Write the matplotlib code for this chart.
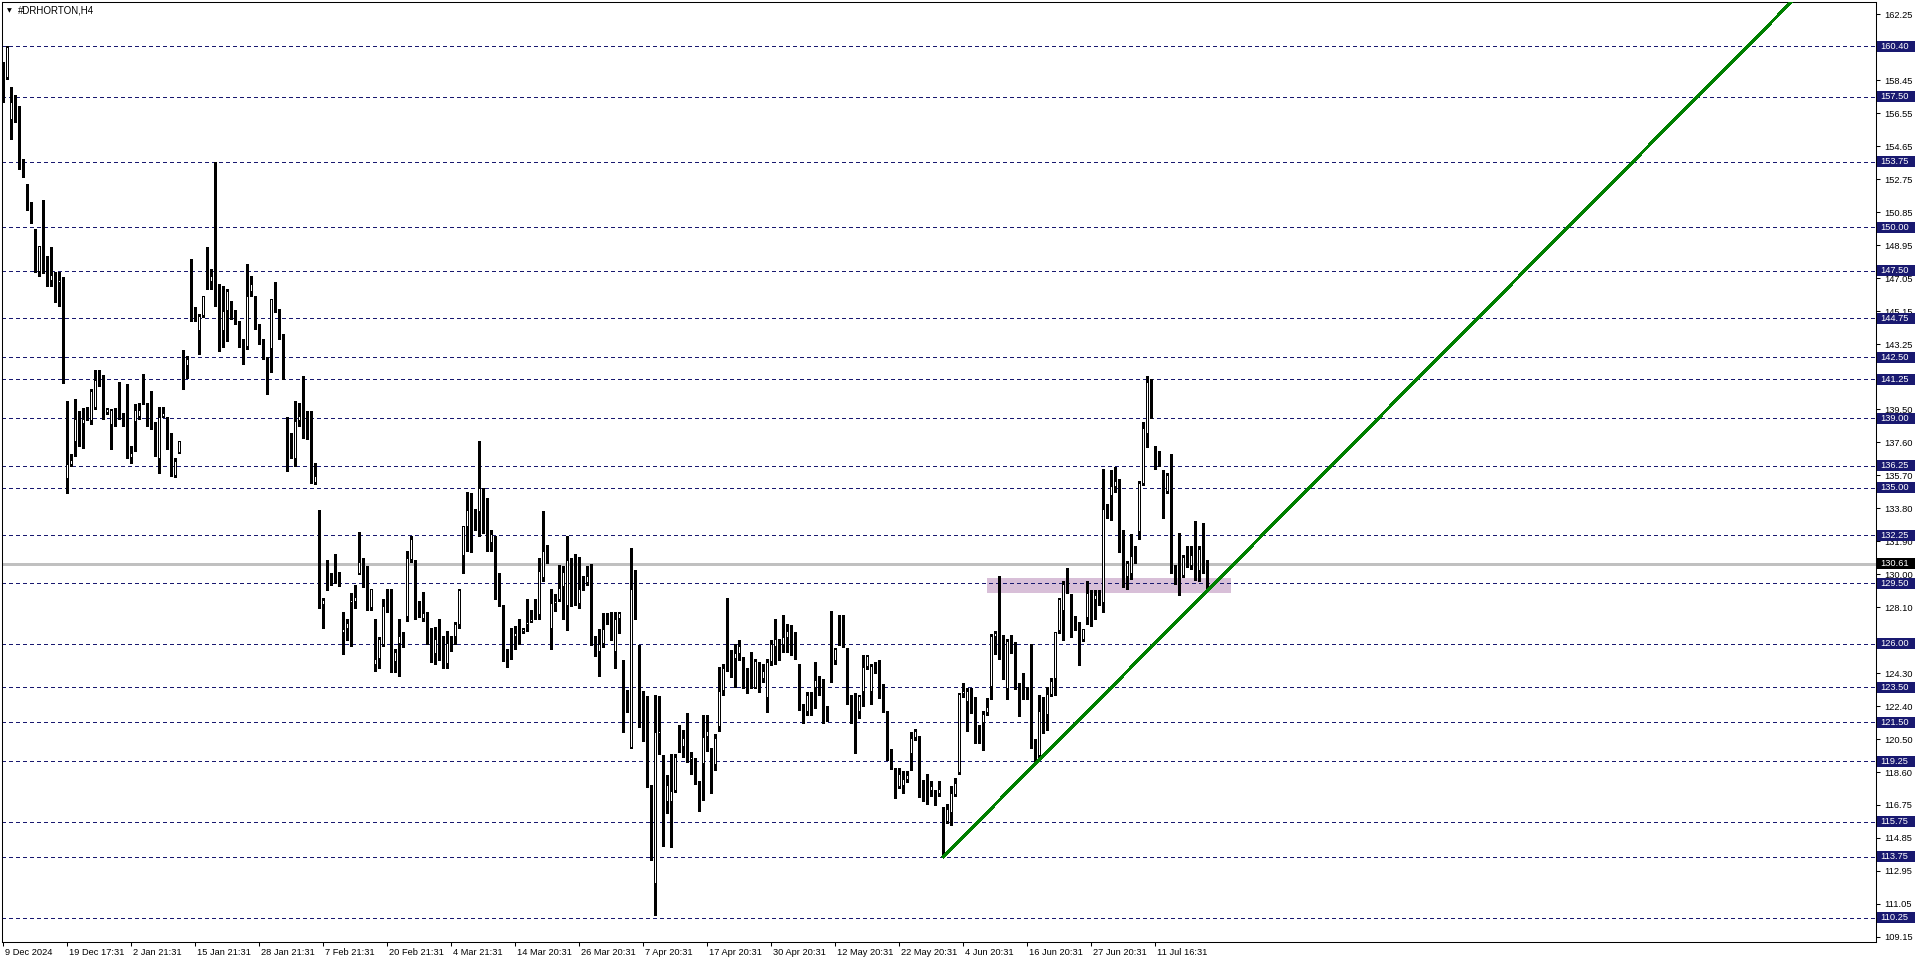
import numpy as np
import matplotlib
matplotlib.use("Agg")
import matplotlib.pyplot as plt
import matplotlib.patches as patches
import matplotlib.transforms as mtransforms

plt.rcParams['font.family'] = ['Liberation Sans', 'DejaVu Sans']
plt.rcParams['lines.scale_dashes'] = False

symbol = "#DRHORTON,H4"

# H4 candles, one value per bar
opens = [
    159.40, 158.57, 156.14, 157.19, 156.90, 153.54, 152.00, 151.04, 149.35, 147.39,
    149.31, 147.78, 146.91, 147.16, 146.76, 147.01, 135.48, 136.29, 137.60, 139.04,
    138.65, 139.48, 138.84, 139.61, 141.19, 140.51, 139.32, 138.59, 139.46, 140.90,
    139.23, 140.90, 136.73, 138.75, 139.04, 140.09, 139.86, 139.04, 138.50, 136.63,
    139.09, 137.88, 137.60, 135.67, 137.02, 142.11, 141.98, 147.49, 145.27, 144.03,
    144.89, 148.45, 146.82, 151.04, 146.62, 144.03, 145.18, 145.70, 145.18, 144.42,
    143.45, 143.07, 146.24, 146.01, 144.32, 143.55, 142.44, 142.97, 145.86, 144.13,
    143.74, 138.98, 137.50, 136.63, 138.84, 141.44, 138.46, 138.65, 135.29, 133.73,
    128.27, 130.55, 129.84, 129.94, 129.80, 126.63, 126.88, 128.37, 128.41, 130.04,
    130.65, 129.80, 128.06, 124.80, 125.14, 125.92, 128.31, 128.67, 124.96, 126.02,
    126.39, 127.55, 130.82, 130.82, 128.16, 127.45, 127.76, 126.39, 125.41, 126.53,
    126.02, 124.84, 126.12, 126.39, 127.08, 131.08, 132.76, 134.14, 133.16, 133.61,
    134.84, 134.33, 131.84, 132.14, 129.69, 128.02, 125.14, 126.39, 126.39, 126.74,
    126.67, 127.08, 127.29, 127.86, 127.65, 129.80, 131.43, 126.84, 128.31, 128.51,
    129.29, 128.20, 130.82, 129.08, 128.31, 129.53, 129.49, 130.51, 126.22, 125.51,
    126.02, 127.35, 127.35, 125.51, 127.45, 125.10, 122.86, 120.00, 129.18, 125.82,
    123.16, 122.96, 117.90, 112.18, 120.82, 118.88, 116.88, 116.88, 117.55, 121.01,
    120.06, 120.28, 119.33, 119.33, 118.08, 119.08, 120.67, 119.23, 119.04, 121.24,
    123.29, 126.59, 125.41, 125.16, 125.45, 125.20, 124.36, 124.68, 123.48, 124.11,
    124.01, 122.91, 124.97, 125.83, 126.31, 125.92, 126.35, 126.40, 125.92, 124.30,
    122.43, 122.10, 123.21, 123.48, 123.97, 123.59, 121.68, 125.92, 125.01, 127.01,
    126.59, 125.73, 122.77, 122.33, 122.10, 123.25, 124.68, 123.25, 124.74, 124.68,
    123.59, 121.49, 119.46, 118.51, 117.74, 117.80, 118.16, 119.65, 120.57, 120.57,
    118.05, 118.05, 117.55, 117.17, 117.36, 116.33, 115.75, 116.27, 117.32, 118.56,
    123.09, 122.67, 123.31, 122.87, 120.92, 121.44, 122.00, 123.54, 126.40, 128.55,
    126.31, 123.40, 126.13, 124.55, 123.62, 123.97, 123.27, 123.49, 120.34, 119.56,
    122.25, 121.92, 123.06, 123.99, 126.75, 127.89, 129.43, 128.82, 127.06, 127.23,
    126.24, 127.50, 128.95, 128.51, 128.77, 128.38, 133.87, 134.53, 135.04, 135.48,
    131.78, 129.87, 130.05, 131.01, 132.46, 135.21, 138.11, 141.08, 137.41, 137.01,
    135.92, 134.75, 136.79, 130.42, 130.49, 129.91, 130.97, 130.49, 132.46, 130.20,
    132.07, 130.86,
]
highs = [
    159.50, 160.40, 158.06, 157.58, 157.00, 153.92, 152.48, 151.43, 149.89, 148.93,
    151.56, 148.35, 148.83, 147.39, 147.39, 147.11, 139.96, 136.92, 140.09, 139.42,
    139.61, 139.67, 140.67, 141.78, 141.78, 141.48, 139.61, 139.52, 139.61, 141.09,
    139.32, 140.96, 137.40, 139.80, 139.89, 141.53, 139.89, 140.57, 138.75, 139.67,
    139.67, 139.04, 138.17, 136.73, 137.69, 142.94, 142.59, 148.16, 145.38, 144.99,
    146.05, 148.83, 147.59, 153.73, 146.72, 146.62, 146.43, 145.76, 145.23, 144.61,
    143.55, 147.86, 147.20, 146.05, 144.42, 143.55, 142.50, 145.86, 146.82, 145.27,
    143.84, 139.04, 138.17, 139.96, 139.89, 141.44, 139.42, 139.42, 136.44, 133.73,
    128.67, 130.82, 130.10, 131.16, 130.14, 127.86, 127.45, 128.92, 129.39, 132.45,
    130.96, 130.51, 129.18, 127.41, 126.39, 128.57, 129.18, 129.18, 125.71, 127.45,
    126.67, 131.33, 132.24, 130.86, 128.47, 128.98, 127.86, 126.94, 127.00, 127.45,
    126.43, 126.74, 126.43, 127.25, 129.18, 132.80, 134.76, 134.69, 133.78, 137.69,
    135.00, 134.39, 132.55, 132.24, 130.06, 128.27, 125.71, 126.94, 127.04, 127.45,
    126.94, 128.57, 127.96, 128.57, 130.92, 133.67, 131.69, 129.18, 128.88, 130.55,
    130.51, 132.24, 130.92, 131.18, 131.02, 129.90, 130.51, 130.61, 126.43, 126.84,
    127.76, 127.76, 127.86, 127.86, 127.86, 125.10, 123.37, 131.53, 130.25, 125.92,
    123.27, 123.00, 117.90, 123.06, 123.00, 119.59, 118.47, 119.69, 119.69, 121.34,
    121.07, 122.04, 119.77, 119.42, 118.12, 121.91, 121.91, 120.00, 120.80, 124.68,
    124.87, 128.66, 125.64, 126.02, 126.21, 125.26, 124.59, 125.54, 125.12, 124.97,
    124.87, 125.12, 126.21, 127.46, 126.31, 127.68, 127.17, 127.07, 126.69, 124.87,
    122.52, 123.25, 123.25, 124.97, 124.17, 123.97, 122.45, 127.90, 125.77, 127.65,
    127.68, 125.77, 123.06, 123.15, 123.06, 125.35, 125.39, 124.87, 124.97, 125.06,
    123.67, 122.14, 119.96, 118.85, 118.85, 118.70, 118.70, 120.92, 121.11, 120.72,
    118.18, 118.51, 118.12, 117.61, 118.12, 116.60, 116.79, 117.80, 118.28, 123.15,
    123.78, 123.48, 123.44, 122.96, 121.34, 122.14, 122.87, 126.59, 126.73, 129.94,
    126.50, 126.27, 126.54, 126.12, 123.78, 124.30, 123.51, 125.97, 120.50, 123.06,
    122.95, 123.51, 124.05, 126.68, 128.66, 129.65, 130.37, 128.88, 127.63, 127.28,
    126.86, 129.65, 129.10, 129.10, 129.10, 136.09, 134.05, 136.02, 136.18, 135.48,
    132.57, 130.79, 132.33, 131.63, 135.41, 138.77, 141.45, 141.26, 137.41, 137.12,
    136.02, 135.85, 136.95, 130.57, 132.40, 131.15, 131.63, 131.63, 133.06, 131.63,
    132.99, 130.86,
]
lows = [
    157.19, 158.54, 155.08, 156.04, 153.35, 152.87, 151.00, 150.24, 147.39, 147.20,
    147.36, 146.62, 146.62, 145.66, 145.47, 141.05, 134.71, 136.25, 136.83, 137.40,
    137.31, 138.90, 138.65, 139.52, 140.86, 138.94, 139.23, 137.21, 138.55, 138.98,
    138.55, 136.73, 136.44, 137.12, 138.94, 139.80, 138.55, 138.36, 136.83, 135.86,
    139.04, 137.21, 135.67, 135.63, 136.98, 140.67, 141.34, 144.61, 144.61, 142.69,
    144.85, 146.43, 146.43, 145.47, 142.88, 143.07, 143.45, 144.70, 144.42, 143.07,
    142.11, 142.97, 146.05, 144.13, 143.26, 142.40, 140.38, 141.63, 145.10, 143.55,
    141.25, 135.96, 136.73, 136.25, 138.55, 137.88, 137.79, 135.29, 135.20, 128.06,
    126.94, 129.08, 129.39, 129.49, 129.33, 125.41, 126.22, 125.86, 128.06, 130.04,
    129.29, 127.96, 127.96, 124.43, 124.59, 125.88, 127.86, 124.39, 124.39, 124.18,
    125.82, 127.35, 130.71, 127.45, 127.55, 127.35, 126.02, 124.96, 124.84, 125.10,
    124.59, 124.59, 125.61, 126.02, 126.94, 130.10, 131.33, 131.29, 132.55, 132.24,
    132.39, 131.33, 131.33, 128.57, 128.16, 125.00, 124.65, 125.14, 125.71, 126.02,
    126.63, 126.74, 127.25, 127.45, 127.45, 129.65, 130.67, 125.71, 127.90, 128.47,
    127.45, 126.80, 128.16, 128.27, 128.06, 129.08, 129.39, 125.92, 125.31, 124.18,
    125.82, 127.12, 126.22, 124.59, 126.63, 120.92, 122.10, 120.00, 127.41, 121.22,
    120.41, 117.76, 113.57, 110.41, 119.69, 114.39, 116.27, 114.29, 117.45, 119.77,
    119.52, 119.23, 118.50, 117.91, 116.37, 117.04, 119.81, 117.42, 118.76, 120.96,
    123.06, 124.43, 124.11, 123.54, 125.06, 123.48, 123.15, 123.44, 123.44, 123.25,
    123.82, 122.10, 124.78, 124.87, 125.06, 125.54, 125.54, 125.35, 125.16, 122.20,
    121.44, 121.91, 121.91, 122.33, 123.06, 121.44, 121.57, 123.82, 124.87, 125.92,
    125.83, 122.52, 121.44, 119.71, 121.76, 122.45, 124.55, 122.52, 124.30, 122.91,
    122.10, 119.33, 118.81, 117.13, 117.70, 117.42, 118.03, 118.76, 120.48, 117.17,
    116.94, 116.79, 117.23, 116.71, 117.23, 113.84, 115.70, 115.56, 117.23, 118.51,
    122.96, 120.96, 122.00, 120.28, 120.28, 119.90, 121.91, 122.83, 125.45, 125.12,
    124.00, 122.83, 125.50, 123.39, 121.83, 122.84, 122.83, 119.99, 119.28, 119.48,
    120.86, 121.04, 123.01, 123.06, 126.62, 126.24, 128.95, 126.40, 126.79, 124.77,
    126.18, 127.12, 127.01, 127.45, 128.22, 127.85, 133.28, 133.12, 134.75, 131.30,
    129.26, 129.17, 129.76, 130.64, 132.07, 135.15, 137.34, 138.99, 136.07, 136.24,
    133.28, 134.70, 130.09, 129.48, 128.82, 129.87, 130.45, 130.31, 129.70, 129.65,
    130.09, 129.21,
]
closes = [
    158.54, 160.36, 157.19, 156.14, 153.45, 152.97, 151.04, 150.56, 147.39, 148.93,
    147.43, 146.72, 147.24, 146.14, 146.95, 141.15, 136.35, 136.58, 138.98, 138.75,
    138.94, 139.61, 140.57, 141.19, 140.96, 139.46, 139.52, 139.46, 139.13, 139.09,
    139.04, 136.79, 137.02, 139.46, 139.46, 139.86, 138.84, 138.50, 137.06, 139.07,
    139.32, 137.60, 136.06, 136.54, 137.69, 141.98, 142.40, 145.23, 144.93, 144.89,
    146.05, 146.72, 147.20, 146.53, 143.16, 145.18, 146.34, 145.18, 144.70, 143.36,
    142.40, 146.05, 146.72, 144.32, 143.36, 142.44, 141.25, 145.86, 145.18, 143.74,
    141.25, 137.50, 136.92, 138.84, 139.13, 138.46, 138.17, 135.29, 135.67, 128.27,
    128.51, 129.80, 129.65, 129.73, 129.73, 126.88, 127.20, 128.51, 128.71, 130.71,
    129.39, 128.06, 129.18, 125.14, 126.27, 128.20, 128.06, 125.04, 125.51, 126.43,
    126.02, 130.92, 132.04, 127.90, 127.90, 127.76, 126.12, 125.41, 126.29, 125.92,
    125.31, 126.06, 125.71, 127.12, 129.12, 132.80, 133.73, 133.16, 133.10, 135.00,
    133.82, 131.84, 132.35, 129.73, 128.57, 125.20, 124.96, 126.33, 126.63, 126.67,
    126.84, 127.29, 127.45, 127.65, 130.20, 131.33, 130.82, 128.37, 128.47, 129.25,
    130.14, 130.82, 129.29, 128.31, 129.18, 129.45, 129.90, 126.22, 125.71, 126.02,
    126.84, 127.20, 127.04, 127.41, 127.80, 122.86, 122.14, 129.18, 127.49, 123.27,
    120.51, 117.90, 114.84, 120.92, 120.96, 116.84, 117.90, 117.55, 119.49, 120.06,
    120.57, 119.33, 119.52, 118.08, 117.32, 120.63, 120.96, 119.00, 120.57, 123.31,
    124.59, 125.35, 124.59, 125.50, 125.89, 124.20, 124.26, 123.54, 125.03, 124.01,
    124.45, 124.97, 126.02, 126.27, 125.12, 126.40, 126.73, 125.92, 125.26, 122.33,
    121.57, 123.06, 122.39, 123.92, 123.48, 121.68, 121.62, 125.06, 125.70, 126.54,
    126.02, 122.67, 121.53, 122.10, 123.02, 124.68, 125.31, 124.74, 124.49, 123.48,
    122.20, 119.42, 119.33, 117.74, 118.51, 118.24, 118.43, 120.61, 121.00, 117.19,
    117.04, 117.51, 117.80, 117.28, 117.67, 115.75, 116.52, 117.42, 117.99, 123.09,
    123.31, 123.31, 122.33, 120.96, 120.38, 121.95, 122.39, 126.46, 126.65, 126.35,
    124.30, 126.16, 125.85, 123.54, 122.63, 123.19, 123.20, 120.26, 119.62, 122.16,
    120.91, 123.12, 123.89, 126.68, 128.60, 129.43, 129.21, 127.01, 126.90, 126.24,
    126.86, 128.95, 128.38, 128.82, 128.55, 133.78, 133.50, 135.10, 135.37, 131.59,
    129.87, 130.64, 131.08, 130.92, 135.26, 138.44, 141.08, 139.37, 137.01, 136.51,
    134.82, 135.74, 130.49, 129.61, 129.91, 131.01, 130.49, 131.15, 130.27, 131.48,
    130.79, 130.61,
]

# horizontal levels drawn on the chart
levels = [160.40, 157.50, 153.75, 150.00, 147.50, 144.75, 142.50, 141.25, 139.00, 136.25,
          135.00, 132.25, 129.50, 126.00, 123.50, 121.50, 119.25, 115.75, 113.75, 110.25]
axis_ticks = [162.25, 158.45, 156.55, 154.65, 152.75, 150.85, 148.95, 147.05, 145.15, 143.25,
              139.50, 137.60, 135.70, 133.80, 131.90, 130.00, 128.10, 124.30, 122.40, 120.50,
              118.60, 116.75, 114.85, 112.95, 111.05, 109.15]
last_price = 130.61

date_labels = ["9 Dec 2024", "19 Dec 17:31", "2 Jan 21:31", "15 Jan 21:31", "28 Jan 21:31",
               "7 Feb 21:31", "20 Feb 21:31", "4 Mar 21:31", "14 Mar 20:31", "26 Mar 20:31",
               "7 Apr 20:31", "17 Apr 20:31", "30 Apr 20:31", "12 May 20:31", "22 May 20:31",
               "4 Jun 20:31", "16 Jun 20:31", "27 Jun 20:31", "11 Jul 16:31"]
label_step = 16

# trend line and support zone (bar index / price)
trend_bars = [235, 447]
trend_prices = [113.75, 162.95]
zone_bars = [246, 307]
zone_prices = [128.95, 129.80]

W, H = 1916, 963
navy = '#191970'
fs = 6.7

fig = plt.figure(figsize=(W / 100, H / 100), dpi=100)
ax = fig.add_axes([2 / W, 21 / H, 1874 / W, 940 / H])
ax.set_xlim(-0.3, 468.2)
ax.set_ylim(108.84, 162.96)
ppu = 940 / (162.96 - 108.84)   # pixels per price unit

o = np.array(opens); h = np.array(highs); l = np.array(lows); c = np.array(closes)
x = np.arange(len(o))
up = c >= o

# zone behind everything
ax.add_patch(patches.Rectangle((zone_bars[0], zone_prices[0]), zone_bars[1] - zone_bars[0],
                               zone_prices[1] - zone_prices[0], facecolor='#D8BFD8',
                               edgecolor='none', zorder=0.5))

for lv in levels:
    ax.axhline(lv, color=navy, lw=0.75, ls=(0, (2.2, 2.2)), zorder=1, antialiased=False)
ax.axhline(last_price, color='#C0C0C0', lw=0.75, zorder=1, antialiased=False)

# candles: wick, 3px black body, 1px white core for up bars
ax.vlines(x, l, h, color='black', lw=0.75, zorder=3, antialiased=False)
top = np.maximum(o, c)
bot = np.minimum(o, c)
ax.bar(x, np.maximum(top - bot, 1 / ppu), bottom=bot, width=0.75, color='black',
       linewidth=0, zorder=4, antialiased=False)
inner = (top - bot) - 2 / ppu
sel = up & (inner > 0)
ax.bar(x[sel], inner[sel], bottom=bot[sel] + 1 / ppu, width=0.25, color='white',
       linewidth=0, zorder=5, antialiased=False)

ax.plot(trend_bars, trend_prices, color='#008000', lw=1.5, zorder=6, antialiased=False)

# axes look
for sp in ax.spines.values():
    sp.set_linewidth(0.75)
    sp.set_color('black')

ax.yaxis.tick_right()
ax.set_yticks(axis_ticks)
ax.set_yticklabels([f"{t:.2f}" for t in axis_ticks])
ax.tick_params(axis='y', length=3, width=0.75, pad=3, labelsize=fs, direction='out')

ax.set_xticks(x[::label_step][:len(date_labels)])
ax.set_xticklabels(date_labels, ha='left')
ax.tick_params(axis='x', length=3, width=0.75, pad=1.5, labelsize=fs, direction='out')
shift = mtransforms.ScaledTranslation(2 / 100, 0, fig.dpi_scale_trans)
for lab in ax.get_xticklabels():
    lab.set_transform(lab.get_transform() + shift)

# price boxes on the right scale
trans = mtransforms.blended_transform_factory(fig.transFigure, ax.transData)
bh = 11 / ppu
for lv, bg in [(v, navy) for v in levels] + [(last_price, 'black')]:
    ax.add_patch(patches.Rectangle((1877 / W, lv - bh / 2), 38 / W, bh, transform=trans,
                                   facecolor=bg, edgecolor='none', clip_on=False, zorder=7))
    ax.text(1880 / W, lv, f"{lv:.2f}", transform=trans, color='white', fontsize=fs,
            va='center', ha='left', clip_on=False, zorder=8)

fig.text(7 / W, 1 - 10.5 / H, '\u25bc', fontsize=4.5, family='DejaVu Sans', va='center', ha='left')
fig.text(18 / W, 1 - 10.5 / H, symbol, fontsize=7, va='center', ha='left')

fig.savefig('out.png', dpi=100)
